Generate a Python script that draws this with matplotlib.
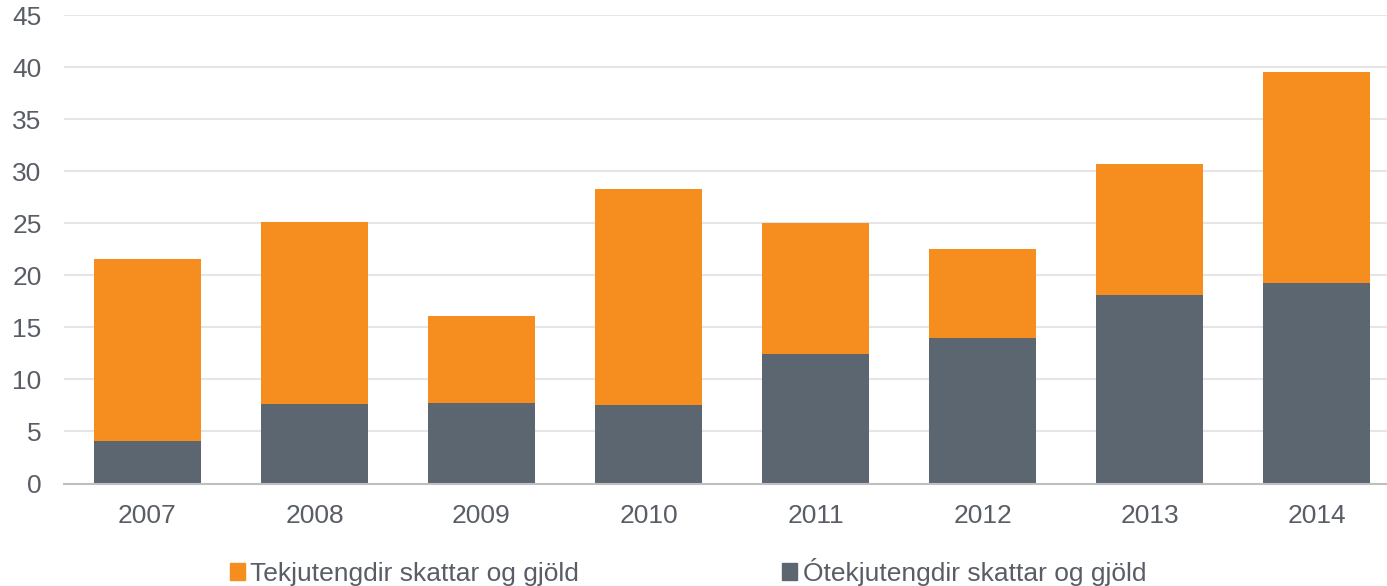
import matplotlib.pyplot as plt
from matplotlib.patches import Patch

# Data
years = ["2007", "2008", "2009", "2010", "2011", "2012", "2013", "2014"]
otekju = [4.1, 7.6, 7.7, 7.5, 12.4, 14.0, 18.1, 19.3]       # dark, bottom
tekju = [17.5, 17.5, 8.4, 20.8, 12.6, 8.5, 12.6, 20.2]      # orange, top
yticks = [0, 5, 10, 15, 20, 25, 30, 35, 40, 45]

orange = "#F58D1F"
dark = "#5C6670"
txt = "#595E66"

plt.rcParams["font.family"] = ["Liberation Sans", "DejaVu Sans"]

fig = plt.figure(figsize=(13.87, 5.86), dpi=100)
ax = fig.add_axes([0.0461, 0.1749, 0.9633, 0.7995])

x = range(len(years))
ax.bar(x, otekju, width=0.64, color=dark, zorder=3)
ax.bar(x, tekju, width=0.64, bottom=otekju, color=orange, zorder=3)

ax.set_xlim(-0.5, 7.5)
ax.set_ylim(0, 45)
ax.set_yticks(yticks)
ax.set_xticks(list(x))
ax.set_xticklabels(years)
ax.grid(axis="y", color="#E6E6E6", linewidth=1.5, zorder=0)
ax.tick_params(length=0, labelsize=19, colors=txt)
ax.tick_params(axis="y", pad=16)
ax.tick_params(axis="x", pad=15)
for s in ["top", "right", "left"]:
    ax.spines[s].set_visible(False)
ax.spines["bottom"].set_color("#BFBFBF")
ax.spines["bottom"].set_linewidth(1.5)
ax.spines["bottom"].set_zorder(4)

handles = [Patch(color=orange, label="Tekjutengdir skattar og gjöld"),
           Patch(color=dark, label="Ótekjutengdir skattar og gjöld")]
fig.legend(handles=handles, loc="center", bbox_to_anchor=(0.496, 0.024),
           ncol=2, frameon=False, fontsize=19, labelcolor=txt,
           handlelength=0.57, handleheight=0.57, handletextpad=0.2,
           columnspacing=7.7)

fig.savefig("out.png", dpi=100)
